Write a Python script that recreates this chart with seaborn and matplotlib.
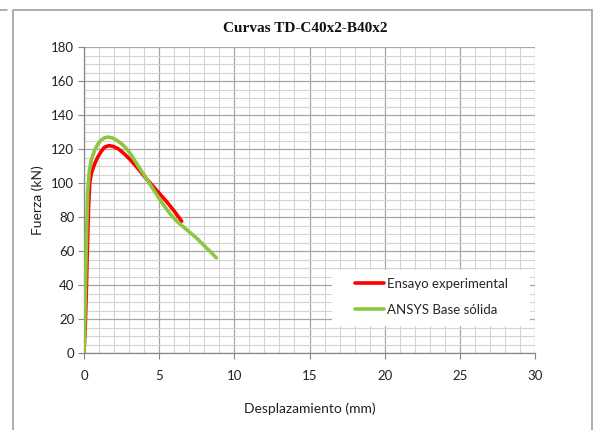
import matplotlib
matplotlib.use("Agg")
import matplotlib.pyplot as plt
import seaborn as sns
import pandas as pd
from matplotlib.patches import Rectangle
from matplotlib.lines import Line2D
from matplotlib.ticker import MultipleLocator

title = "Curvas TD-C40x2-B40x2"
xlabel = "Desplazamiento (mm)"
ylabel = "Fuerza (kN)"
series_names = ["Ensayo experimental", "ANSYS Base sólida"]

exp_x = [0, 0.08, 0.15, 0.22, 0.3, 0.38, 0.5, 0.7, 0.9, 1.1, 1.35, 1.65, 1.95, 2.3,
         2.7, 3.1, 3.5, 4.0, 4.5, 5.0, 5.5, 6.0, 6.5]
exp_y = [0, 15, 35, 60, 85, 100, 106, 111, 115, 118, 121, 122, 121.5, 120,
         117, 113.5, 109.5, 104, 99, 94, 89, 83.5, 77.5]

ans_x = [0, 0.04, 0.1, 0.17, 0.25, 0.35, 0.5, 0.7, 0.9, 1.1, 1.35, 1.6, 1.9, 2.2,
         2.5, 2.8, 3.1, 3.5, 3.9, 4.3, 4.7, 5.1, 5.5, 5.9, 6.3, 6.7, 7.1, 7.5,
         7.9, 8.3, 8.8]
ans_y = [0, 15, 40, 70, 95, 107, 114, 119, 122.5, 125, 126.5, 127, 126.5, 125,
         123, 120.5, 117, 111.5, 106, 100.5, 95, 89.5, 84.5, 80, 76.5, 73.5, 70.5, 67.5,
         64, 60.5, 56]

colors = ["#ff0000", "#8dc63f"]

sns.set_theme(style="white")
plt.rcParams['font.family'] = ['Lato', 'DejaVu Sans']

fig = plt.figure(figsize=(5.93, 4.30), dpi=100)
ax = fig.add_axes([84/593, 1-353/430, (535-84)/593, (353-47)/430])

df = pd.concat([
    pd.DataFrame({"x": exp_x, "y": exp_y, "s": series_names[0]}),
    pd.DataFrame({"x": ans_x, "y": ans_y, "s": series_names[1]}),
])
sns.lineplot(data=df, x="x", y="y", hue="s", palette=colors, sort=False,
             estimator=None, linewidth=2.6, ax=ax, legend=False, zorder=3,
             solid_joinstyle="round", solid_capstyle="round")

ax.set_xlim(0, 30)
ax.set_ylim(0, 180)
ax.xaxis.set_major_locator(MultipleLocator(5))
ax.xaxis.set_minor_locator(MultipleLocator(1))
ax.yaxis.set_major_locator(MultipleLocator(20))
ax.yaxis.set_minor_locator(MultipleLocator(5))
ax.grid(which="major", color="#a6a6a6", linewidth=0.9, zorder=0)
ax.grid(which="minor", color="#d4d4d4", linewidth=0.8, zorder=0)
ax.set_axisbelow(True)
for side in ["top", "right"]:
    ax.spines[side].set_visible(False)
for side in ["left", "bottom"]:
    ax.spines[side].set_color("#868686")
    ax.spines[side].set_linewidth(0.9)
ax.tick_params(which="major", direction="out", length=4, width=0.8,
               color="#868686", labelsize=9.5, labelcolor="#222222", pad=3,
               left=True, bottom=True)
ax.tick_params(which="minor", length=0)
ax.tick_params(axis="x", pad=8)

ax.set_xlabel(xlabel, fontsize=10, color="#222222", labelpad=15)
ax.set_ylabel(ylabel, fontsize=10, color="#222222", labelpad=5)

fig.text(305/593, 1-28/430, title, ha="center", va="center",
         fontsize=11, fontweight="bold", family="Liberation Serif", color="#111111")

# legend area
ax.add_patch(Rectangle(((332-84)/451, (353-326)/306), (530-332)/451, (326-270)/306,
                       transform=ax.transAxes, facecolor="white", edgecolor="none",
                       zorder=4))
handles = [Line2D([0], [0], color=c, linewidth=2.6) for c in colors]
leg = ax.legend(handles, series_names, loc="center left",
                bbox_to_anchor=((355-84)/451, (353-297)/306),
                frameon=False, fontsize=9.5,
                handlelength=2.2, handletextpad=0.2, labelspacing=1.05,
                borderaxespad=0, borderpad=0)
leg.set_zorder(5)

# outer chart border
fig.patches.append(Rectangle((13/593, -0.05), (592-13)/593, 1.05-10/430,
                             transform=fig.transFigure, fill=False,
                             edgecolor="#a0a0a0", linewidth=1.2))
fig.lines.append(Line2D([0, 7/593], [1-10/430, 1-10/430], transform=fig.transFigure,
                        color="#a0a0a0", linewidth=1.2))

fig.savefig("out.png", dpi=100)
